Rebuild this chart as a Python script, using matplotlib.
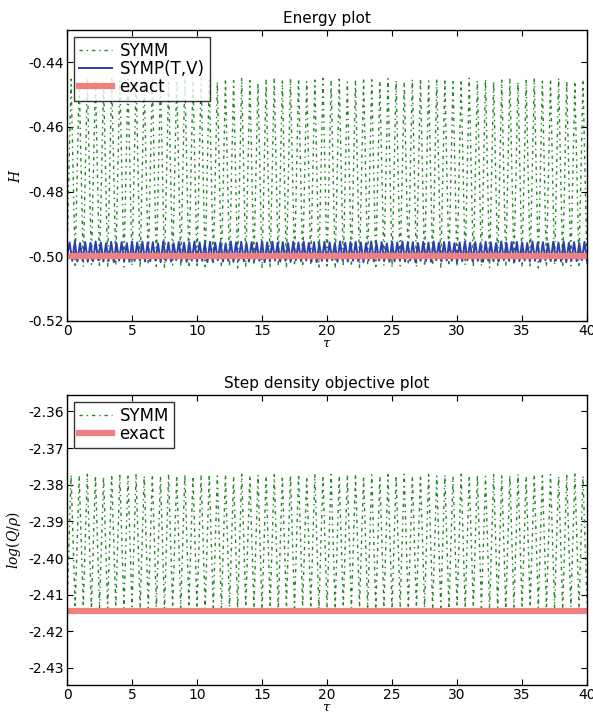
import numpy as np
import matplotlib
matplotlib.use('Agg')
import matplotlib.pyplot as plt

# Time grids: one sample per half cycle (troughs on even indices, peaks on odd)
tau_symm = np.linspace(0, 40, 129)
tau_symp = np.linspace(0, 40, 201)

# Energy plot, SYMM peaks / troughs
symm_H_peak = [
    -0.4452, -0.4458, -0.4449, -0.4455, -0.4461, -0.4450, -0.4457, -0.4453, -0.4448, -0.4459,
    -0.4454, -0.4450, -0.4462, -0.4456, -0.4451, -0.4458, -0.4449, -0.4455, -0.4460, -0.4452,
    -0.4457, -0.4450, -0.4456, -0.4463, -0.4453, -0.4449, -0.4458, -0.4454, -0.4451, -0.4460,
    -0.4455, -0.4450, -0.4457, -0.4452, -0.4461, -0.4456, -0.4449, -0.4454, -0.4459, -0.4451,
    -0.4456, -0.4462, -0.4453, -0.4450, -0.4458, -0.4455, -0.4451, -0.4460, -0.4454, -0.4449,
    -0.4457, -0.4452, -0.4459, -0.4455, -0.4450, -0.4461, -0.4456, -0.4452, -0.4458, -0.4453,
    -0.4449, -0.4457, -0.4460, -0.4454,
]
symm_H_trough = [
    -0.5000,
    -0.5028, -0.5032, -0.5025, -0.5035, -0.5030, -0.5027, -0.5033, -0.5029, -0.5036, -0.5026,
    -0.5031, -0.5034, -0.5027, -0.5030, -0.5035, -0.5028, -0.5032, -0.5026, -0.5033, -0.5029,
    -0.5036, -0.5030, -0.5027, -0.5034, -0.5031, -0.5028, -0.5035, -0.5029, -0.5032, -0.5026,
    -0.5033, -0.5030, -0.5036, -0.5028, -0.5031, -0.5034, -0.5027, -0.5032, -0.5029, -0.5035,
    -0.5030, -0.5026, -0.5033, -0.5031, -0.5028, -0.5036, -0.5029, -0.5032, -0.5027, -0.5034,
    -0.5030, -0.5035, -0.5028, -0.5031, -0.5026, -0.5033, -0.5029, -0.5036, -0.5032, -0.5027,
    -0.5034, -0.5030, -0.5028, -0.5035,
]

# Energy plot, SYMP(T,V) peaks / troughs
symp_H_peak = [
    -0.4957, -0.4955, -0.4959, -0.4956, -0.4958, -0.4954, -0.4957, -0.4960, -0.4955, -0.4958,
    -0.4956, -0.4959, -0.4954, -0.4957, -0.4955, -0.4958, -0.4956, -0.4960, -0.4954, -0.4957,
    -0.4959, -0.4955, -0.4958, -0.4956, -0.4954, -0.4957, -0.4959, -0.4955, -0.4958, -0.4956,
    -0.4960, -0.4954, -0.4957, -0.4955, -0.4959, -0.4956, -0.4958, -0.4954, -0.4957, -0.4955,
    -0.4958, -0.4956, -0.4959, -0.4955, -0.4957, -0.4954, -0.4958, -0.4956, -0.4960, -0.4955,
    -0.4957, -0.4959, -0.4954, -0.4958, -0.4956, -0.4955, -0.4957, -0.4959, -0.4954, -0.4958,
    -0.4956, -0.4960, -0.4955, -0.4957, -0.4954, -0.4958, -0.4956, -0.4959, -0.4955, -0.4957,
    -0.4954, -0.4958, -0.4956, -0.4955, -0.4959, -0.4957, -0.4954, -0.4958, -0.4956, -0.4960,
    -0.4955, -0.4957, -0.4959, -0.4954, -0.4958, -0.4956, -0.4955, -0.4957, -0.4959, -0.4954,
    -0.4958, -0.4956, -0.4960, -0.4955, -0.4957, -0.4954, -0.4958, -0.4956, -0.4959, -0.4955,
]
symp_H_trough = [
    -0.5000,
    -0.5014, -0.5016, -0.5013, -0.5017, -0.5015, -0.5012, -0.5016, -0.5014, -0.5018, -0.5013,
    -0.5015, -0.5017, -0.5014, -0.5012, -0.5016, -0.5015, -0.5013, -0.5018, -0.5014, -0.5016,
    -0.5012, -0.5015, -0.5017, -0.5013, -0.5016, -0.5014, -0.5018, -0.5015, -0.5012, -0.5016,
    -0.5014, -0.5017, -0.5013, -0.5015, -0.5016, -0.5012, -0.5014, -0.5018, -0.5015, -0.5013,
    -0.5016, -0.5014, -0.5017, -0.5012, -0.5015, -0.5013, -0.5016, -0.5018, -0.5014, -0.5015,
    -0.5012, -0.5017, -0.5013, -0.5016, -0.5014, -0.5015, -0.5018, -0.5012, -0.5016, -0.5013,
    -0.5014, -0.5017, -0.5015, -0.5012, -0.5016, -0.5013, -0.5018, -0.5014, -0.5015, -0.5017,
    -0.5012, -0.5016, -0.5013, -0.5014, -0.5018, -0.5015, -0.5012, -0.5016, -0.5014, -0.5017,
    -0.5013, -0.5015, -0.5016, -0.5012, -0.5014, -0.5018, -0.5015, -0.5013, -0.5016, -0.5014,
    -0.5017, -0.5012, -0.5015, -0.5013, -0.5016, -0.5018, -0.5014, -0.5015, -0.5012, -0.5016,
]
exact_H = -0.5

# Step density objective plot, SYMM peaks / troughs
symm_Q_peak = [
    -2.3773, -2.3776, -2.3771, -2.3775, -2.3778, -2.3772, -2.3774, -2.3777, -2.3771, -2.3776,
    -2.3773, -2.3778, -2.3772, -2.3775, -2.3771, -2.3777, -2.3774, -2.3772, -2.3776, -2.3773,
    -2.3778, -2.3771, -2.3775, -2.3773, -2.3777, -2.3772, -2.3776, -2.3774, -2.3771, -2.3778,
    -2.3773, -2.3775, -2.3772, -2.3777, -2.3774, -2.3771, -2.3776, -2.3773, -2.3778, -2.3772,
    -2.3775, -2.3771, -2.3777, -2.3774, -2.3772, -2.3776, -2.3773, -2.3778, -2.3771, -2.3775,
    -2.3773, -2.3777, -2.3772, -2.3776, -2.3774, -2.3771, -2.3778, -2.3773, -2.3775, -2.3772,
    -2.3777, -2.3774, -2.3771, -2.3776,
]
symm_Q_trough = [
    -2.4140,
    -2.4136, -2.4133, -2.4138, -2.4135, -2.4139, -2.4134, -2.4137, -2.4133, -2.4136, -2.4139,
    -2.4135, -2.4138, -2.4134, -2.4137, -2.4133, -2.4136, -2.4139, -2.4135, -2.4138, -2.4134,
    -2.4137, -2.4133, -2.4136, -2.4139, -2.4135, -2.4138, -2.4134, -2.4137, -2.4133, -2.4136,
    -2.4139, -2.4135, -2.4138, -2.4134, -2.4137, -2.4133, -2.4136, -2.4139, -2.4135, -2.4138,
    -2.4134, -2.4137, -2.4133, -2.4136, -2.4139, -2.4135, -2.4138, -2.4134, -2.4137, -2.4133,
    -2.4136, -2.4139, -2.4135, -2.4138, -2.4134, -2.4137, -2.4133, -2.4136, -2.4139, -2.4135,
    -2.4138, -2.4134, -2.4137, -2.4133,
]
exact_Q = -2.4145


def zigzag(troughs, peaks):
    y = np.empty(len(troughs) + len(peaks))
    y[0::2] = troughs
    y[1::2] = peaks
    return y


symm_H = zigzag(symm_H_trough, symm_H_peak)
symp_H = zigzag(symp_H_trough, symp_H_peak)
symm_Q = zigzag(symm_Q_trough, symm_Q_peak)

green = '#1f871f'
blue = '#2c3fae'
red = '#f08080'
symm_style = (0, (2.4, 2.8, 1.0, 2.8))

plt.rcParams['font.family'] = 'DejaVu Sans'
plt.rcParams['mathtext.fontset'] = 'dejavuserif'
plt.rcParams['lines.scale_dashes'] = False

fig = plt.figure(figsize=(5.93, 7.13), dpi=100)
ax1 = fig.add_axes([0.113, 0.5498, 0.877, 0.4082])
ax2 = fig.add_axes([0.113, 0.0390, 0.877, 0.4070])

# Energy plot
ax1.plot(tau_symm, symm_H, color=green, ls=symm_style, lw=1.0, label='SYMM')
ax1.plot(tau_symp, symp_H, '-', color=blue, lw=1.4, label='SYMP(T,V)')
ax1.plot([0, 40], [exact_H, exact_H], '-', color=red, lw=4.5, label='exact')
ax1.set_xlim(0, 40)
ax1.set_ylim(-0.52, -0.43)
ax1.set_yticks([-0.52, -0.50, -0.48, -0.46, -0.44])
ax1.set_yticklabels(['-0.52', '-0.50', '-0.48', '-0.46', '-0.44'])
ax1.set_title('Energy plot', fontsize=11, pad=5)
ax1.set_xlabel(r'$\tau$', fontsize=9.5, labelpad=-1)
ax1.set_ylabel(r'$H$', fontsize=10)

# Step density objective plot
ax2.plot(tau_symm, symm_Q, color=green, ls=symm_style, lw=1.0, label='SYMM')
ax2.plot([0, 40], [exact_Q, exact_Q], '-', color=red, lw=4.5, label='exact')
ax2.set_xlim(0, 40)
ax2.set_ylim(-2.4347, -2.3555)
ax2.set_yticks([-2.43, -2.42, -2.41, -2.40, -2.39, -2.38, -2.37, -2.36])
ax2.set_yticklabels(['-2.43', '-2.42', '-2.41', '-2.40', '-2.39', '-2.38', '-2.37', '-2.36'])
ax2.set_title('Step density objective plot', fontsize=11, pad=5)
ax2.set_xlabel(r'$\tau$', fontsize=9.5, labelpad=-1)
ax2.set_ylabel(r'$log(Q/\rho)$', fontsize=10)

for ax in (ax1, ax2):
    ax.set_xticks([0, 5, 10, 15, 20, 25, 30, 35, 40])
    ax.tick_params(direction='in', top=True, right=True, length=4, labelsize=10, pad=2)
    for s in ax.spines.values():
        s.set_linewidth(1.0)
    leg = ax.legend(loc='upper left', fontsize=12, frameon=True, fancybox=False,
                    borderpad=0.3, labelspacing=0.0, handlelength=2.0,
                    handletextpad=0.45, borderaxespad=0.4)
    leg.get_frame().set_edgecolor('black')
    leg.get_frame().set_linewidth(1.0)

fig.savefig('out.png', dpi=100, facecolor='white')
